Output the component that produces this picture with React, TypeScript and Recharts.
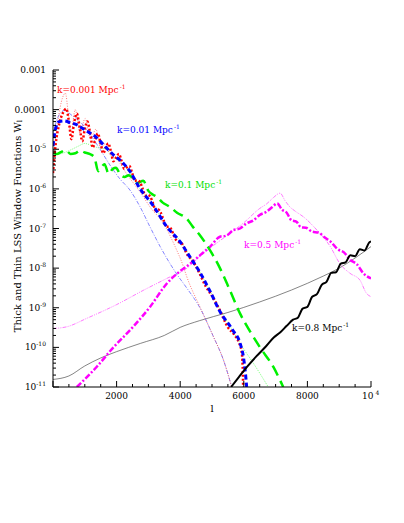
import { LineChart, Line, XAxis, YAxis, ReferenceDot } from 'recharts';

const FONT = '"DejaVu Serif", serif';

// multipole l ticks along the x axes
const lTicks = [0, 500, 1000, 1500, 2000, 2500, 3000, 3500, 4000, 4500, 5000, 5500, 6000, 6500, 7000, 7500, 8000, 8500, 9000, 9500, 10000];
const lMajor = [0, 2000, 4000, 6000, 8000, 10000];
const lLabels = [2000, 4000, 6000, 8000];

// decades shown on the log axis
const decades = [-11, -10, -9, -8, -7, -6, -5, -4, -3];
const decadeLabels: Record<number, string> = { [-3]: '0.001', [-4]: '0.0001' };

// [l, W_l]
const k001Thick: [number, number][] = [
  [0, 2.5e-6], [80, 1.26e-5], [200, 4.5e-5], [300, 7.9e-5], [420, 1.05e-4], [500, 5.0e-5], [580, 1.8e-5],
  [660, 4.5e-5], [750, 7.9e-5], [840, 3.5e-5], [920, 1.6e-5], [1000, 3.2e-5], [1080, 5.0e-5], [1170, 2.5e-5],
  [1250, 1.1e-5], [1330, 1.8e-5], [1410, 2.5e-5], [1500, 1.4e-5], [1580, 7.9e-6], [1660, 1.1e-5], [1740, 1.4e-5],
  [1820, 8.9e-6], [1900, 5.0e-6], [1990, 6.3e-6], [2070, 7.6e-6], [2160, 5.0e-6], [2240, 3.2e-6], [2320, 3.5e-6],
  [2400, 3.8e-6], [2490, 2.5e-6], [2570, 1.6e-6], [2650, 1.66e-6], [2730, 1.5e-6], [2820, 1.0e-6], [2900, 6.8e-7],
  [2980, 7.1e-7], [3060, 6.3e-7], [3150, 4.2e-7], [3230, 2.8e-7], [3310, 3.0e-7], [3390, 2.5e-7], [3480, 1.6e-7],
  [3560, 1.1e-7], [3640, 1.1e-7], [3720, 9.5e-8], [3810, 6.3e-8], [3900, 4.8e-8], [4050, 4.2e-8], [4220, 2.2e-8],
  [4400, 1.5e-8], [4600, 7.6e-9], [4800, 3.5e-9], [5000, 2.0e-9], [5250, 8.5e-10], [5500, 3.2e-10], [5700, 2.1e-10],
  [5850, 1.3e-10], [5930, 7.9e-11], [5965, 3.2e-11], [5980, 1e-11],
];
const k001Thin: [number, number][] = [
  [0, 5.0e-6], [150, 5.0e-5], [300, 2.0e-4], [390, 2.6e-4], [480, 7.9e-5], [560, 2.5e-5], [700, 1.0e-4],
  [850, 2.5e-5], [1010, 6.0e-5], [1180, 1.8e-5], [1350, 3.2e-5], [1500, 1.1e-5], [1650, 1.4e-5], [1800, 7.1e-6],
  [1950, 6.3e-6], [2110, 4.4e-6], [2300, 2.5e-6], [2530, 1.4e-6], [2800, 7.1e-7], [3050, 3.5e-7], [3470, 1.35e-7],
  [3840, 3.5e-8], [4100, 1.1e-8], [4200, 6.3e-9], [4620, 1.05e-9], [5040, 1.9e-10], [5360, 4.8e-11], [5620, 1e-11],
];
const k01Thick: [number, number][] = [
  [0, 1.2e-5], [70, 3.0e-5], [180, 4.9e-5], [340, 5.2e-5], [540, 4.7e-5], [760, 4.1e-5], [1020, 3.0e-5],
  [1330, 2.1e-5], [1650, 1.15e-5], [1910, 7.1e-6], [2170, 4.8e-6], [2420, 2.75e-6], [2740, 1.0e-6], [3150, 3.8e-7],
  [3580, 1.1e-7], [3990, 4.7e-8], [4310, 1.9e-8], [4620, 7.8e-9], [4950, 2.5e-9], [5250, 8.0e-10], [5670, 2.6e-10],
  [5880, 1.3e-10], [5990, 5.6e-11], [6050, 2.3e-11], [6090, 1e-11],
];
const k01Thin: [number, number][] = [
  [0, 2.5e-5], [150, 6.3e-5], [350, 9.5e-5], [600, 7.1e-5], [900, 4.5e-5], [1200, 2.2e-5], [1480, 1.0e-5],
  [1790, 4.0e-6], [2100, 1.8e-6], [2420, 9.3e-7], [2740, 3.5e-7], [3050, 1.1e-7], [3370, 3.5e-8], [3680, 1.3e-8],
  [3890, 7.1e-9], [4200, 3.2e-9], [4620, 1.0e-9], [5040, 1.9e-10], [5360, 4.8e-11], [5620, 1e-11],
];
const k1Thick: [number, number][] = [
  [0, 8.3e-6], [120, 7.6e-6], [250, 8.5e-6], [400, 9.5e-6], [550, 7.6e-6], [700, 7.9e-6], [850, 9.3e-6],
  [1000, 8.3e-6], [1150, 7.6e-6], [1300, 6.3e-6], [1420, 2.8e-6], [1520, 3.5e-6], [1620, 4.2e-6], [1750, 2.4e-6],
  [1880, 3.2e-6], [1980, 3.4e-6], [2100, 2.4e-6], [2250, 2.0e-6], [2380, 2.2e-6], [2500, 1.9e-6], [2650, 1.4e-6],
  [2840, 1.6e-6], [3000, 8.9e-7], [3150, 7.1e-7], [3260, 6.3e-7], [3450, 4.5e-7], [3680, 3.5e-7], [3900, 2.5e-7],
  [4200, 1.8e-7], [4400, 1.1e-7], [4620, 6.8e-8], [4940, 2.8e-8], [5250, 1.0e-8], [5560, 2.8e-9], [5880, 7.2e-10],
  [6200, 2.5e-10], [6510, 1.0e-10], [6930, 3.2e-11], [7240, 1e-11],
];
const k1Thin: [number, number][] = [
  [0, 7.1e-6], [300, 7.9e-6], [600, 1.0e-5], [800, 1.2e-5], [1000, 1.4e-5], [1200, 1.26e-5], [1400, 1.1e-5],
  [1650, 1.0e-5], [1910, 6.3e-6], [2170, 4.4e-6], [2420, 2.5e-6], [2740, 1.0e-6], [3150, 3.8e-7], [3580, 1.15e-7],
  [3990, 5.0e-8], [4310, 2.0e-8], [4620, 7.9e-9], [5250, 9.0e-10], [5670, 2.5e-10], [5930, 1.1e-10], [6300, 4.0e-11],
  [6770, 1e-11],
];
const k5Thick: [number, number][] = [
  [750, 1e-11], [1370, 3.2e-11], [1900, 1.0e-10], [2520, 3.3e-10], [3050, 1.05e-9], [3580, 4.1e-9], [3990, 8.3e-9],
  [4300, 1.26e-8], [4620, 2.1e-8], [4940, 3.5e-8], [5250, 6.2e-8], [5450, 6.6e-8], [5670, 9.1e-8], [5880, 1.0e-7],
  [6090, 1.35e-7], [6300, 1.6e-7], [6500, 2.2e-7], [6700, 2.6e-7], [6900, 3.5e-7], [7050, 4.3e-7], [7200, 3.0e-7],
  [7350, 2.5e-7], [7500, 1.6e-7], [7650, 1.5e-7], [7800, 1.07e-7], [7950, 1.05e-7], [8150, 8.3e-8], [8350, 7.9e-8],
  [8550, 5.9e-8], [8750, 4.5e-8], [8950, 3.0e-8], [9150, 2.5e-8], [9350, 1.6e-8], [9550, 1.26e-8], [9760, 7.4e-9],
  [10000, 5.5e-9],
];
const k5Thin: [number, number][] = [
  [0, 3.0e-10], [430, 3.3e-10], [1060, 5.4e-10], [2000, 1.2e-9], [2840, 2.75e-9], [3580, 5.5e-9], [4200, 9.8e-9],
  [4620, 2.0e-8], [5000, 3.5e-8], [5570, 7.6e-8], [6000, 1.4e-7], [6500, 3.2e-7], [6720, 4.2e-7], [6930, 6.0e-7],
  [7140, 7.8e-7], [7300, 5.0e-7], [7450, 3.5e-7], [7600, 2.8e-7], [7900, 1.9e-7], [8300, 9.1e-8], [8720, 3.5e-8],
  [9020, 1.3e-8], [9340, 7.4e-9], [9650, 5.0e-9], [9860, 2.3e-9], [10000, 1.9e-9],
];
const k8Thick: [number, number][] = [
  [5600, 1e-11], [5850, 1.8e-11], [6100, 3.2e-11], [6400, 6.0e-11], [6700, 1.07e-10], [6950, 1.8e-10],
  [7150, 2.4e-10], [7350, 3.5e-10], [7550, 5.0e-10], [7700, 5.6e-10], [7850, 9.5e-10], [8000, 1.05e-9],
  [8150, 1.9e-9], [8300, 2.2e-9], [8450, 3.8e-9], [8600, 4.5e-9], [8750, 7.6e-9], [8900, 7.9e-9], [9050, 1.3e-8],
  [9200, 1.4e-8], [9350, 2.1e-8], [9500, 2.0e-8], [9650, 3.0e-8], [9800, 2.8e-8], [9950, 4.5e-8], [10000, 4.7e-8],
];
const k8Thin: [number, number][] = [
  [0, 1.55e-11], [500, 1.9e-11], [1000, 3.4e-11], [1500, 5.4e-11], [2000, 7.8e-11], [2750, 1.26e-10],
  [3500, 2.0e-10], [4000, 3.2e-10], [4600, 4.7e-10], [5500, 7.6e-10], [6500, 1.4e-9], [7500, 2.8e-9],
  [8500, 6.3e-9], [9000, 1.0e-8], [9500, 1.8e-8], [10000, 3.5e-8],
];

// where each k label sits, in data coordinates
const kLabels = [
  { text: 'k=0.001 Mpc', l: 126, w: 3.1e-4, color: '#ff0000' },
  { text: 'k=0.01 Mpc', l: 2013, w: 3.05e-5, color: '#0000ff' },
  { text: 'k=0.1 Mpc', l: 3522, w: 1.25e-6, color: '#00e000' },
  { text: 'k=0.5 Mpc', l: 6006, w: 3.8e-8, color: '#ff00ff' },
  { text: 'k=0.8 Mpc', l: 7516, w: 3.05e-10, color: '#000000' },
];

const wTicks: number[] = [];
decades.forEach((d) => {
  for (let m = 1; m < 10; m++) {
    if (d === -3 && m > 1) break;
    wTicks.push(m * Math.pow(10, d));
  }
});

const toRows = (pts: [number, number][]) => pts.map(([l, w]) => ({ l, w }));

function isDecade(v: number) {
  const e = Math.log10(v);
  return Math.abs(e - Math.round(e)) < 1e-6;
}

function BottomTick(props: any) {
  const { x, y, payload } = props;
  const v = payload.value;
  const len = lMajor.includes(v) ? 6 : 3;
  return (
    <g>
      <line x1={x} x2={x} y1={y} y2={y - len} stroke="#000" />
      {lLabels.includes(v) && (
        <text x={x} y={y + 9} textAnchor="middle" dominantBaseline="central" fontSize={9} fill="#000">
          {v}
        </text>
      )}
      {v === 10000 && (
        <text x={x - 9} y={y + 9} dominantBaseline="central" fontSize={9} fill="#000">
          10
          <tspan dx={2} dy={-4} fontSize={6}>4</tspan>
        </text>
      )}
    </g>
  );
}

function TopTick(props: any) {
  const { x, y, payload } = props;
  const len = lMajor.includes(payload.value) ? 6 : 3;
  return <line x1={x} x2={x} y1={y} y2={y + len} stroke="#000" />;
}

function LeftTick(props: any) {
  const { x, y, payload } = props;
  const v = payload.value;
  const major = isDecade(v);
  const e = Math.round(Math.log10(v));
  return (
    <g>
      <line x1={x} x2={x + (major ? 6 : 3)} y1={y} y2={y} stroke="#000" />
      {major && (
        <text x={x - 7} y={y} textAnchor="end" dominantBaseline="central" fontSize={9} fill="#000">
          {decadeLabels[e] ?? '10'}
          {decadeLabels[e] ? null : (
            <tspan dy={-4} fontSize={6}>{`-${-e}`}</tspan>
          )}
        </text>
      )}
    </g>
  );
}

function RightTick(props: any) {
  const { x, y, payload } = props;
  const len = isDecade(payload.value) ? 6 : 3;
  return <line x1={x} x2={x - len} y1={y} y2={y} stroke="#000" />;
}

function KText(props: any) {
  const { viewBox, text, color } = props;
  return (
    <text x={viewBox.x} y={viewBox.y} dominantBaseline="central" fontSize={9} fill={color}>
      {text}
      <tspan dx={1} dy={-4} fontSize={6}>-1</tspan>
    </text>
  );
}

const series = [
  { id: 'k8thin', pts: k8Thin, color: '#333333', width: 0.6, dash: undefined, ax: 't' },
  { id: 'k5thin', pts: k5Thin, color: '#ff40ff', width: 0.7, dash: '4 1.2 1 1.2 1 1.2', ax: 't' },
  { id: 'k1thin', pts: k1Thin, color: '#40ff40', width: 0.7, dash: '1 1.2', ax: 't' },
  { id: 'k01thin', pts: k01Thin, color: '#5050ff', width: 0.7, dash: '4 1.5 1 1.5', ax: 't' },
  { id: 'k001thin', pts: k001Thin, color: '#ff4040', width: 0.7, dash: '1 1.5', ax: 't' },
  { id: 'k5thick', pts: k5Thick, color: '#ff00ff', width: 2.5, dash: '6 2 2 2', ax: 'b' },
  { id: 'k1thick', pts: k1Thick, color: '#00f000', width: 2.5, dash: '11 6', ax: 'b' },
  { id: 'k001thick', pts: k001Thick, color: '#ff0000', width: 2.5, dash: '2 2', ax: 'b' },
  { id: 'k01thick', pts: k01Thick, color: '#0000ff', width: 3, dash: '5 3', ax: 'b' },
  { id: 'k8thick', pts: k8Thick, color: '#000000', width: 2, dash: undefined, ax: 'b' },
];

export default function App() {
  return (
    <div style={{ width: 396, height: 420, fontFamily: FONT }}>
      <LineChart width={396} height={420} margin={{ top: 62, right: 33, bottom: 11, left: 0 }} style={{ fontFamily: FONT }}>
        <XAxis
          xAxisId="b"
          dataKey="l"
          type="number"
          domain={[0, 10000]}
          allowDataOverflow
          ticks={lTicks}
          interval={0}
          tickSize={0}
          tickMargin={0}
          tickLine={false}
          axisLine={{ stroke: '#000' }}
          tick={<BottomTick />}
          height={30}
          label={{
            content: (p: any) => (
              <text x={p.viewBox.x + p.viewBox.width / 2} y={p.viewBox.y + 21} textAnchor="middle" dominantBaseline="central" fontSize={10} fill="#000">
                l
              </text>
            ),
          }}
        />
        <XAxis
          xAxisId="t"
          orientation="top"
          dataKey="l"
          type="number"
          domain={[0, 10000]}
          allowDataOverflow
          ticks={lTicks}
          interval={0}
          tickSize={0}
          tickMargin={0}
          tickLine={false}
          axisLine={{ stroke: '#000' }}
          tick={<TopTick />}
          height={0}
        />
        <YAxis
          yAxisId="l"
          scale="log"
          type="number"
          domain={[1e-11, 1e-3]}
          allowDataOverflow
          ticks={wTicks}
          interval={0}
          tickSize={0}
          tickMargin={0}
          tickLine={false}
          axisLine={{ stroke: '#000' }}
          tick={<LeftTick />}
          width={45}
          label={{
            content: (p: any) => (
              <text
                transform={`translate(${p.viewBox.x + 9},${p.viewBox.y + p.viewBox.height / 2 - 2.5}) rotate(-90)`}
                textAnchor="middle"
                dominantBaseline="central"
                fontSize={10}
                fill="#000"
              >
                Thick and Thin LSS Window Functions W
                <tspan dy={3} fontSize={7}>l</tspan>
              </text>
            ),
          }}
        />
        <YAxis
          yAxisId="r"
          orientation="right"
          scale="log"
          type="number"
          domain={[1e-11, 1e-3]}
          allowDataOverflow
          ticks={wTicks}
          interval={0}
          tickSize={0}
          tickMargin={0}
          tickLine={false}
          axisLine={{ stroke: '#000' }}
          tick={<RightTick />}
          width={0}
        />
        {series.map((s) => (
          <Line
            key={s.id}
            data={toRows(s.pts)}
            dataKey="w"
            xAxisId={s.ax}
            yAxisId={s.ax === 'b' ? 'l' : 'r'}
            type="monotone"
            stroke={s.color}
            strokeWidth={s.width}
            strokeDasharray={s.dash}
            dot={false}
            activeDot={false}
            isAnimationActive={false}
          />
        ))}
        {kLabels.map((k) => (
          <ReferenceDot
            key={k.text}
            xAxisId="b"
            yAxisId="l"
            x={k.l}
            y={k.w}
            r={0}
            fill="none"
            stroke="none"
            label={(p: any) => <KText viewBox={p.viewBox} text={k.text} color={k.color} />}
          />
        ))}
      </LineChart>
    </div>
  );
}
